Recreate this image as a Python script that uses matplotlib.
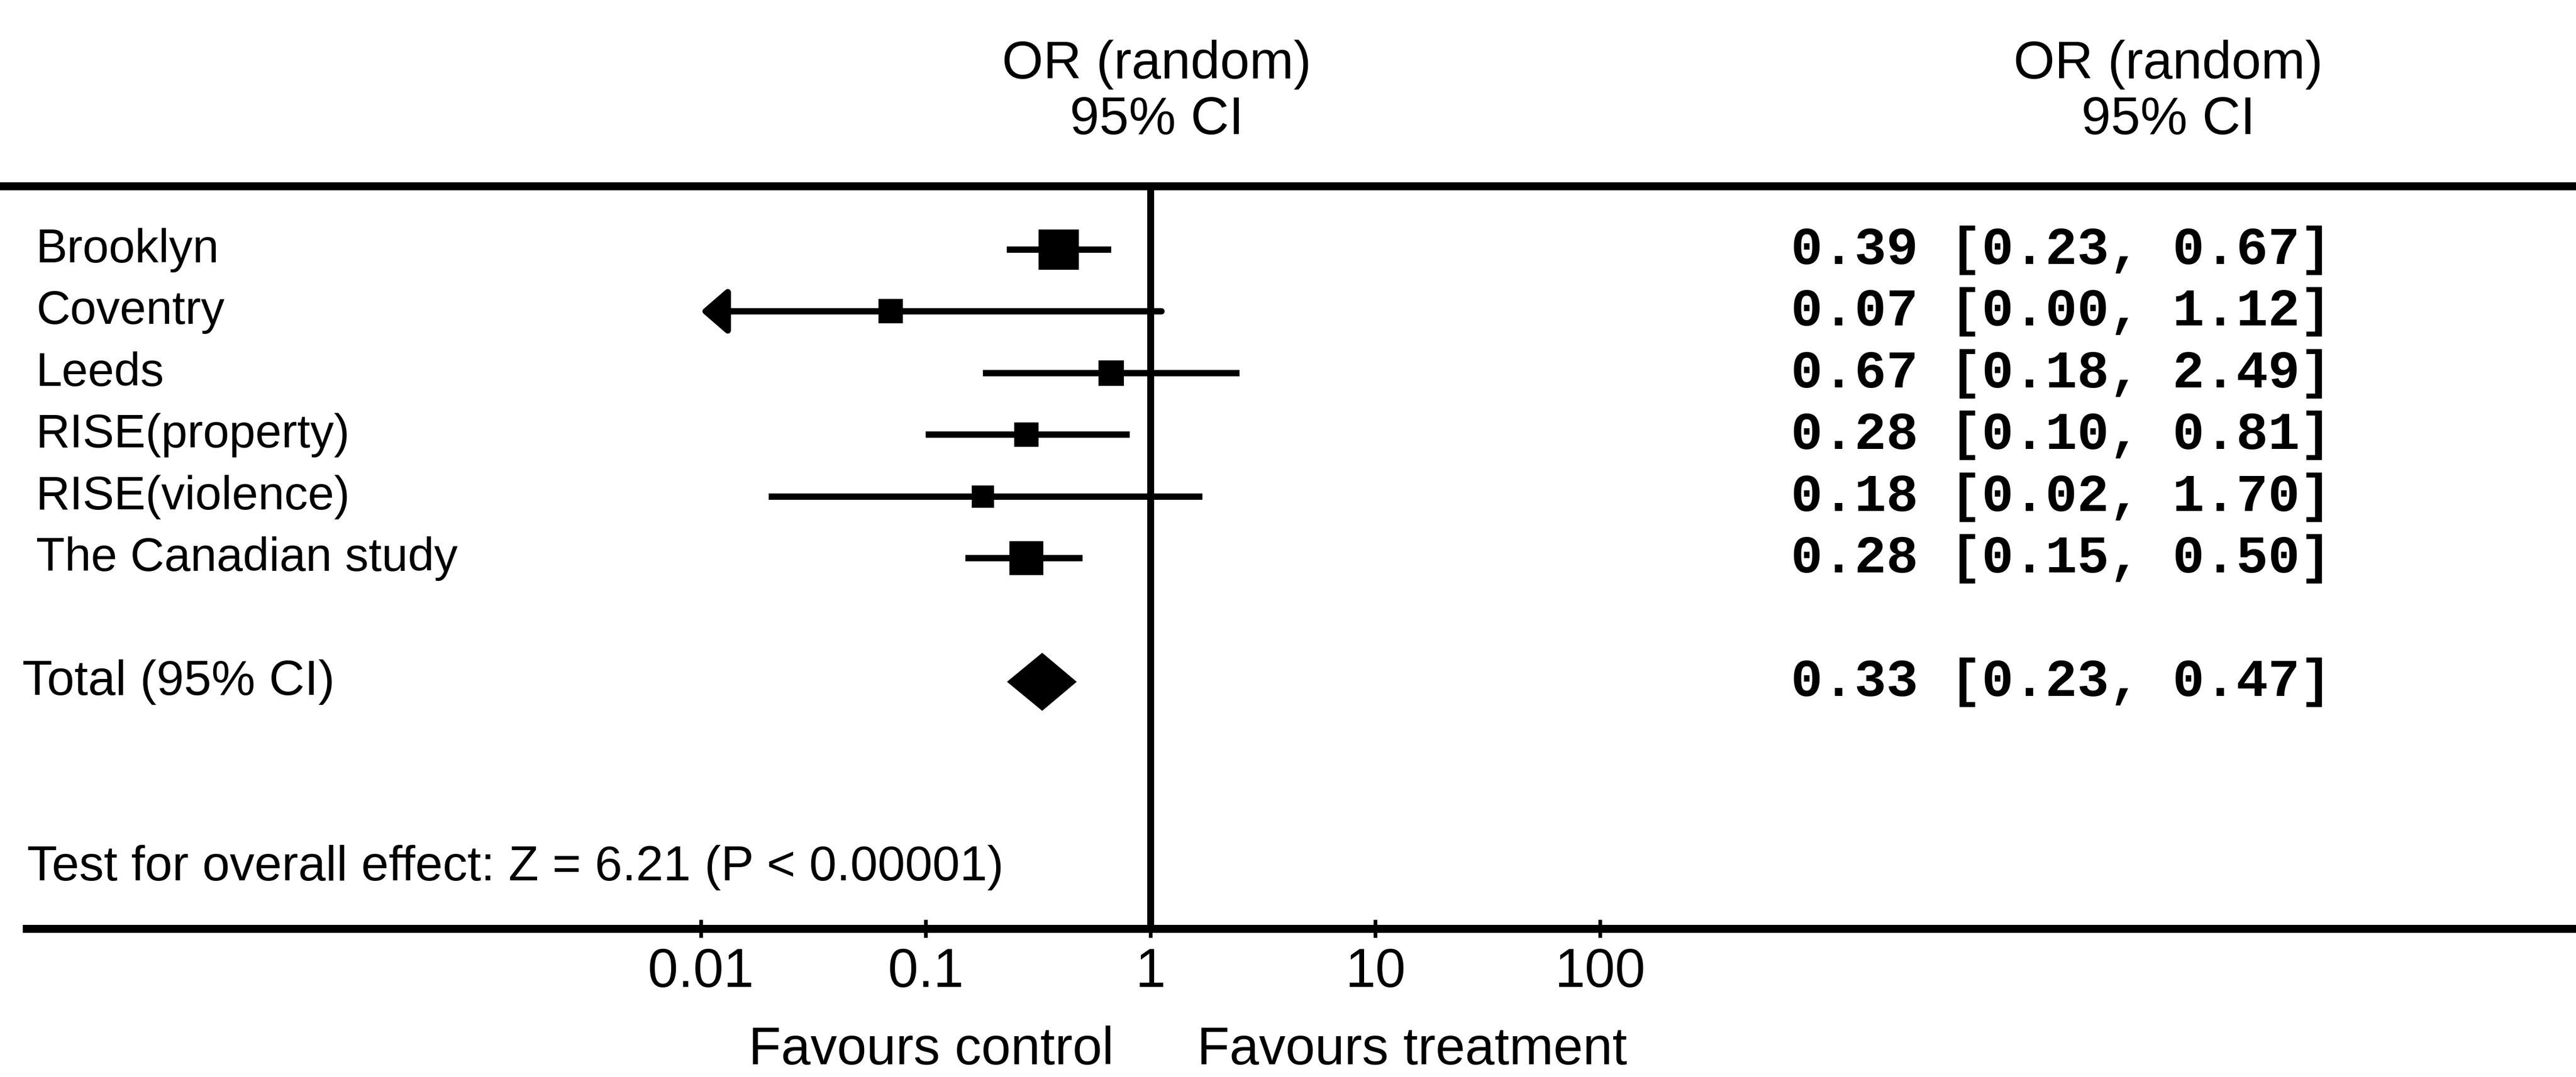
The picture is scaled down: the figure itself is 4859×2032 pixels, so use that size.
import numpy as np
import matplotlib
matplotlib.use("Agg")
import matplotlib.pyplot as plt
from matplotlib import transforms

# study data
studies = ["Brooklyn", "Coventry", "Leeds", "RISE(property)", "RISE(violence)",
           "The Canadian study"]
odds = [0.39, 0.07, 0.67, 0.28, 0.18, 0.28]
ci_low = [0.23, 0.00, 0.18, 0.10, 0.02, 0.15]
ci_high = [0.67, 1.12, 2.49, 0.81, 1.70, 0.50]
weights = [31.6, 11.1, 12.6, 11.6, 10.1, 23.1]  # % (box area)

total_label = "Total (95% CI)"
total_or = 0.33
total_low = 0.23
total_high = 0.47
test_text = "Test for overall effect: Z = 6.21 (P < 0.00001)"

ticks = [0.01, 0.1, 1, 10, 100]
tick_labels = ["0.01", "0.1", "1", "10", "100"]
header = "OR (random)\n95% CI"

sans = "Liberation Sans"
mono = "Liberation Mono"

fig = plt.figure(figsize=(48.59, 20.33), dpi=100)
ax = fig.add_axes([0, 0, 1, 1])
ax.set_xscale("log")
ax.set_xlim(10 ** -5.118, 10 ** 6.342)
ax.set_ylim(13.40, -4.05)
lo_clip = ticks[0]

rows = np.arange(len(studies))
total_row = 7

# confidence intervals
for y, lo, hi in zip(rows, ci_low, ci_high):
    if lo < lo_clip:
        ax.annotate("", xy=(lo_clip, y), xytext=(hi, y),
                    arrowprops=dict(arrowstyle="-|>,head_length=3.0,head_width=2.6",
                                    mutation_scale=10, lw=8.6, color="black",
                                    shrinkA=0, shrinkB=0))
    else:
        ax.hlines(y, lo, hi, color="black", lw=8.6)

# boxes sized by weight
for y, o, w in zip(rows, odds, weights):
    ax.plot(o, y, marker="s", color="black", markersize=9.73 * np.sqrt(w),
            markeredgewidth=0)

# pooled diamond
ax.fill([total_low, total_or, total_high, total_or],
        [total_row, total_row - 0.47, total_row, total_row + 0.47],
        color="black", lw=0)

# frame lines
ax.axhline(-1.03, color="black", lw=10.8)
ax.vlines(1, -1.03, 11, color="black", lw=9.4)

for s in ["top", "left", "right"]:
    ax.spines[s].set_visible(False)
ax.spines["bottom"].set_position(("data", 11))
ax.spines["bottom"].set_linewidth(10.8)
ax.spines["bottom"].set_bounds(1e-5, 10 ** 6.342)
ax.yaxis.set_visible(False)
ax.set_xticks(ticks)
ax.set_xticklabels(tick_labels, fontfamily=sans)
ax.minorticks_off()
ax.tick_params(axis="x", direction="inout", length=25, width=5, pad=12,
               labelsize=74)

tr = transforms.blended_transform_factory(ax.transAxes, ax.transData)

# left labels
for y, name in zip(rows, studies):
    ax.text(0.014, y, name, transform=tr, ha="left", va="center",
            fontsize=64, fontfamily=sans)
ax.text(0.0086, total_row, total_label, transform=tr, ha="left", va="center",
        fontsize=67, fontfamily=sans)
ax.text(0.0105, 10, test_text, transform=tr, ha="left", va="center",
        fontsize=67, fontfamily=sans)

# right column values
for y, o, lo, hi in zip(rows, odds, ci_low, ci_high):
    ax.text(0.6952, y, f"{o:.2f} [{lo:.2f}, {hi:.2f}]", transform=tr,
            ha="left", va="center", fontsize=72, fontfamily=mono,
            fontweight="bold")
ax.text(0.6952, total_row, f"{total_or:.2f} [{total_low:.2f}, {total_high:.2f}]",
        transform=tr, ha="left", va="center", fontsize=72, fontfamily=mono,
        fontweight="bold")

# headers
ax.text(0.449, -2.55, header, transform=tr, ha="center", va="center",
        fontsize=72, fontfamily=sans, multialignment="center",
        linespacing=1.15)
ax.text(0.8417, -2.55, header, transform=tr, ha="center", va="center",
        fontsize=72, fontfamily=sans, multialignment="center",
        linespacing=1.15)

# direction labels
ax.text(0.4324, 12.96, "Favours control", transform=tr, ha="right",
        va="center", fontsize=72, fontfamily=sans)
ax.text(0.4647, 12.96, "Favours treatment", transform=tr, ha="left",
        va="center", fontsize=72, fontfamily=sans)

fig.savefig("out.png", dpi=100)
